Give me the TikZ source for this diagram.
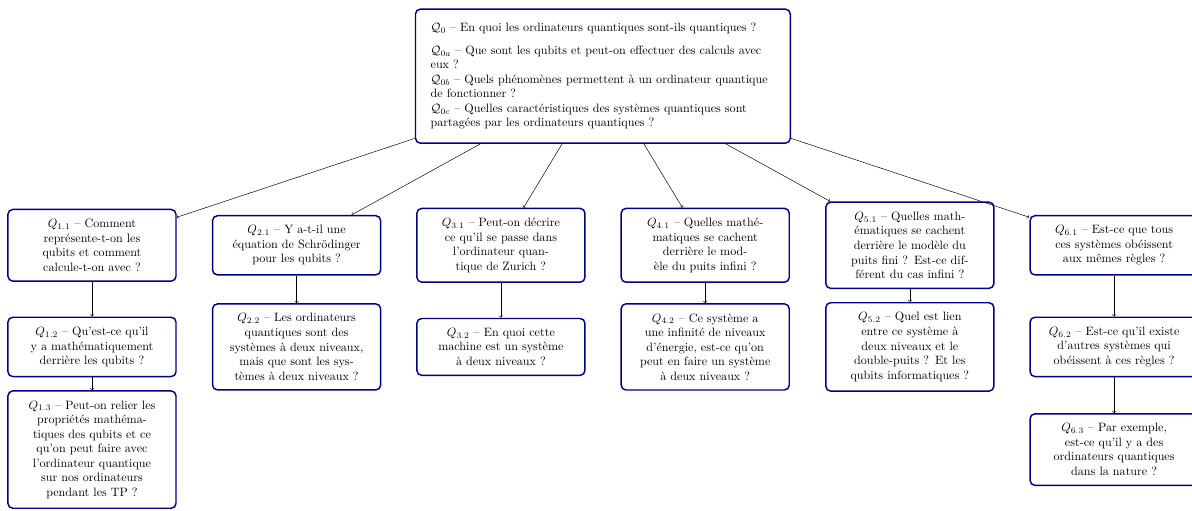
\documentclass[tikz,border=0pt]{standalone}
\usepackage{fontspec}

\begin{document}
\begin{tikzpicture}[
    question/.style={draw=blue!55!black, very thick, rounded corners=4pt, fill=white,
      text width=4cm, align=center, inner xsep=12.5pt, inner ysep=8pt},
    racine/.style={question, text width=10cm, align=left, minimum height=3.89cm},
    lien/.style={->}
  ]
    \useasboundingbox (0,0) rectangle (34.60,-14.81);

    % Question principale
    \node[racine] (q0) at (17.50,-2.21) {
      $\mathcal{Q}_0$ -- En quoi les ordinateurs quantiques sont-ils quantiques~?\\[7pt]
      $\mathcal{Q}_{0a}$ -- Que sont les qubits et peut-on effectuer des calculs avec\\ eux~?\\
      $\mathcal{Q}_{0b}$ -- Quels phénomènes permettent à un ordinateur quantique\\ de fonctionner~?\\
      $\mathcal{Q}_{0c}$ -- Quelles caractéristiques des systèmes quantiques sont\\ partagées par les ordinateurs quantiques~?};

    % Premier niveau
    \node[question] (q11) at (2.67,-7.12) {$Q_{1.1}$ -- Comment\\ représente-t-on les\\ qubits et comment\\ calcule-t-on avec~?};
    \node[question] (q21) at (8.61,-7.12) {$Q_{2.1}$ -- Y a-t-il une\\ équation de Schrödinger\\ pour les qubits~?};
    \node[question] (q31) at (14.54,-7.12) {$Q_{3.1}$ -- Peut-on décrire\\ ce qu'il se passe dans\\ l'ordinateur quan-\\tique de Zurich~?};
    \node[question] (q41) at (20.47,-7.12) {$Q_{4.1}$ -- Quelles mathé-\\matiques se cachent\\ derrière le mod-\\èle du puits infini~?};
    \node[question] (q51) at (26.41,-7.12) {$Q_{5.1}$ -- Quelles math-\\ématiques se cachent\\ derrière le modèle du\\ puits fini~? Est-ce dif-\\férent du cas infini~?};
    \node[question] (q61) at (32.34,-7.12) {$Q_{6.1}$ -- Est-ce que tous\\ ces systèmes obéissent\\ aux mêmes règles~?};

    % Deuxieme niveau
    \node[question] (q12) at (2.67,-10.07) {$Q_{1.2}$ -- Qu'est-ce qu'il\\ y a mathématiquement\\ derrière les qubits~?};
    \node[question] (q22) at (8.61,-10.07) {$Q_{2.2}$ -- Les ordinateurs\\ quantiques sont des\\ systèmes à deux niveaux,\\ mais que sont les sys-\\tèmes à deux niveaux~?};
    \node[question] (q32) at (14.54,-10.07) {$Q_{3.2}$ -- En quoi cette\\ machine est un système\\ à deux niveaux~?};
    \node[question] (q42) at (20.47,-10.07) {$Q_{4.2}$ -- Ce système a\\ une infinité de niveaux\\ d'énergie, est-ce qu'on\\ peut en faire un système\\ à deux niveaux~?};
    \node[question] (q52) at (26.41,-10.07) {$Q_{5.2}$ -- Quel est lien\\ entre ce système à\\ deux niveaux et le\\ double-puits~? Et les\\ qubits informatiques~?};
    \node[question] (q62) at (32.34,-10.07) {$Q_{6.2}$ -- Est-ce qu'il existe\\ d'autres systèmes qui\\ obéissent à ces règles~?};

    % Troisieme niveau
    \node[question] (q13) at (2.67,-13.05) {$Q_{1.3}$ -- Peut-on relier les\\ propriétés mathéma-\\tiques des qubits et ce\\ qu'on peut faire avec\\ l'ordinateur quantique\\ sur nos ordinateurs\\ pendant les TP~?};
    \node[question] (q63) at (32.34,-13.05) {$Q_{6.3}$ -- Par exemple,\\ est-ce qu'il y a des\\ ordinateurs quantiques\\ dans la nature~?};

    % Fleches
    \foreach \n in {q11,q21,q31,q41,q51,q61} \draw[lien] (q0) -- (\n);
    \draw[lien] (q11) -- (q12);
    \draw[lien] (q12) -- (q13);
    \draw[lien] (q21) -- (q22);
    \draw[lien] (q31) -- (q32);
    \draw[lien] (q41) -- (q42);
    \draw[lien] (q51) -- (q52);
    \draw[lien] (q61) -- (q62);
    \draw[lien] (q62) -- (q63);
\end{tikzpicture}
\end{document}
